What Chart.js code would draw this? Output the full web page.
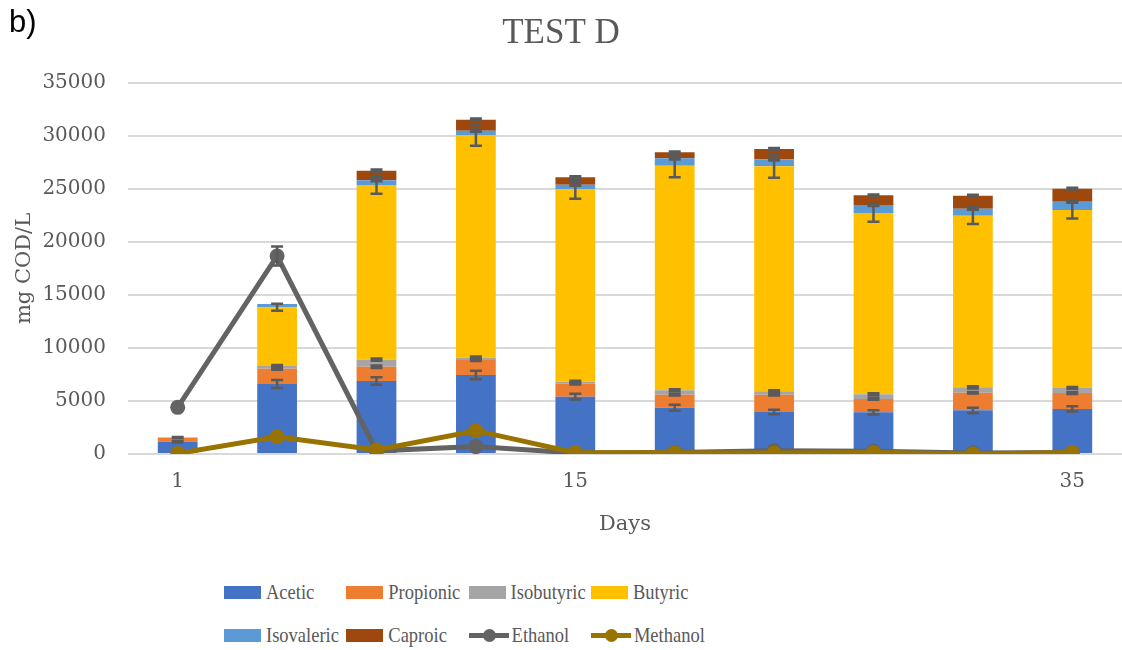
<!DOCTYPE html>
<html>
<head>
<meta charset="utf-8">
<script src="https://cdn.jsdelivr.net/npm/chart.js@4/dist/chart.umd.min.js"></script>
<style>
  body { margin: 0; background: #fff; }
  #wrap { position: relative; width: 1122px; height: 650px; overflow: hidden; }
  #chart { position: absolute; left: 0; top: 0; }
  #tag { position: absolute; left: 9px; top: 4px; font: 31px "Liberation Sans", Arial, sans-serif; color: #000; }
  #legend { position: absolute; left: 224px; top: 571px; display: grid; grid-template-columns: repeat(4, 122.3px); }
  .item { display: flex; align-items: center; height: 43px; font: 18.5px "Liberation Serif", serif; color: #595959; white-space: nowrap; }
  .item span.t { display: inline-block; transform: scaleY(1.18); }
  .box { width: 37px; height: 13px; margin-right: 5px; flex: none; }
  .ln { position: relative; width: 40px; height: 13px; margin-right: 3px; flex: none; }
  .ln i { position: absolute; left: 0; right: 0; top: 4px; height: 5px; }
  .ln b { position: absolute; left: 14px; top: 0; width: 13px; height: 13px; border-radius: 50%; }
</style>
</head>
<body>
<div id="wrap">
  <canvas id="chart" width="1122" height="560"></canvas>
  <div id="tag">b)</div>
  <div id="legend"></div>
</div>
<script>
  // ============= DATA =============
  const days = ['1', '', '', '', '15', '', '', '', '', '35'];
  const yTicks = [0, 5000, 10000, 15000, 20000, 25000, 30000, 35000];

  const acetic     = [1150, 6600, 6890, 7450, 5410, 4370, 3960, 3930, 4120, 4250];
  const propionic  = [400, 1450, 1350, 1420, 1220, 1230, 1640, 1260, 1660, 1500];
  const isobutyric = [0, 250, 660, 220, 190, 410, 310, 440, 510, 480];
  const butyric    = [0, 5540, 16480, 21000, 18150, 21190, 21230, 17110, 16190, 16790];
  const isovaleric = [0, 310, 440, 410, 440, 690, 660, 750, 660, 780];
  const caproic    = [0, 0, 910, 1040, 690, 570, 970, 910, 1230, 1230];
  const ethanol    = [4400, 18680, 300, 700, 100, 150, 300, 250, 100, 150];
  const methanol   = [50, 1630, 380, 2200, 120, 120, 100, 150, 0, 130];

  // error bar half-lengths (mg COD/L)
  const aceticErr     = [60, 380, 350, 400, 280, 280, 220, 200, 250, 250];
  const propionicErr  = [60, 100, 120, 100, 80, 80, 80, 80, 80, 80];
  const isobutyricErr = [0, 100, 100, 100, 100, 100, 100, 100, 100, 100];
  const butyricErr    = [0, 330, 820, 1020, 880, 1100, 1070, 830, 790, 800];
  const isovalericErr = [0, 0, 100, 100, 100, 100, 100, 100, 100, 100];
  const caproicErr    = [0, 0, 100, 100, 100, 80, 100, 80, 80, 80];
  const ethanolErr    = [0, 900, 0, 0, 0, 0, 0, 0, 0, 0];

  const TEXT = '#595959';

  // ============= ERROR BARS =============
  const errorBars = {
    id: 'errorBars',
    afterDatasetsDraw(chart) {
      const ctx = chart.ctx;
      const y = chart.scales.y;
      ctx.save();
      ctx.strokeStyle = '#5a5a5a';
      ctx.lineWidth = 2.5;
      chart.data.datasets.forEach((ds, di) => {
        if (!ds.errors) return;
        const meta = chart.getDatasetMeta(di);
        meta.data.forEach((el, i) => {
          const e = ds.errors[i];
          if (!e) return;
          const v = y.getValueForPixel(el.y);
          const y1 = y.getPixelForValue(v + e);
          const y2 = y.getPixelForValue(v - e);
          const x = el.x;
          ctx.beginPath();
          ctx.moveTo(x, y1); ctx.lineTo(x, y2);
          ctx.moveTo(x - 6, y1); ctx.lineTo(x + 6, y1);
          ctx.moveTo(x - 6, y2); ctx.lineTo(x + 6, y2);
          ctx.stroke();
        });
      });
      ctx.restore();
    }
  };

  function barSet(label, data, color, errors) {
    return { type: 'bar', label, data, backgroundColor: color, errors, order: 1,
             barPercentage: 0.4, categoryPercentage: 1 };
  }
  function lineSet(label, data, color, errors, order) {
    return { type: 'line', label, data, borderColor: color, backgroundColor: color, errors,
             stack: label, order, borderWidth: 5, pointRadius: 7.5, pointHoverRadius: 7.5,
             pointBorderWidth: 0, tension: 0 };
  }

  const series = [
    barSet('Acetic', acetic, '#4472C4', aceticErr),
    barSet('Propionic', propionic, '#ED7D31', propionicErr),
    barSet('Isobutyric', isobutyric, '#A5A5A5', isobutyricErr),
    barSet('Butyric', butyric, '#FFC000', butyricErr),
    barSet('Isovaleric', isovaleric, '#5B9BD5', isovalericErr),
    barSet('Caproic', caproic, '#9E480E', caproicErr),
    lineSet('Ethanol', ethanol, '#636363', ethanolErr, 0),
    lineSet('Methanol', methanol, '#997300', null, -1)
  ];

  new Chart(document.getElementById('chart'), {
    data: { labels: days, datasets: series },
    plugins: [errorBars],
    options: {
      responsive: false,
      animation: false,
      layout: { autoPadding: false, padding: { top: 0, right: 0, bottom: 16, left: 0 } },
      plugins: {
        legend: { display: false },
        tooltip: { enabled: false },
        title: {
          display: true, text: 'TEST D', color: TEXT,
          font: { family: 'Liberation Serif', size: 35, weight: 'normal' },
          padding: { top: 13, bottom: 28 }
        }
      },
      scales: {
        x: {
          stacked: true,
          grid: { display: false, drawTicks: false },
          border: { display: false },
          ticks: { color: TEXT, font: { family: 'DejaVu Serif', size: 20 }, padding: 16, autoSkip: false, maxRotation: 0 },
          title: { display: true, text: 'Days', color: TEXT, font: { family: 'DejaVu Serif', size: 21 }, padding: { top: 0, bottom: 7 } },
          afterFit(s) { s.height = 90; s.paddingRight = 0; s.paddingLeft = 0; }
        },
        y: {
          stacked: true,
          min: 0, max: 35000,
          afterBuildTicks(s) { s.ticks = yTicks.map(v => ({ value: v })); },
          grid: { color: '#d9d9d9', lineWidth: 2, drawTicks: false },
          border: { display: false },
          ticks: { color: TEXT, font: { family: 'DejaVu Serif', size: 20 }, padding: 22, callback: v => String(v) },
          title: { display: true, text: 'mg COD/L', color: TEXT, font: { family: 'DejaVu Serif', size: 21 }, padding: { top: 12, bottom: 0 } },
          afterFit(s) { s.width = 128; }
        }
      }
    }
  });

  // ============= LEGEND =============
  const legendEl = document.getElementById('legend');
  legendEl.innerHTML = series.map(s => {
    const mark = s.type === 'bar'
      ? `<span class="box" style="background:${s.backgroundColor}"></span>`
      : `<span class="ln"><i style="background:${s.borderColor}"></i><b style="background:${s.borderColor}"></b></span>`;
    return `<div class="item">${mark}<span class="t">${s.label}</span></div>`;
  }).join('');
</script>
</body>
</html>
